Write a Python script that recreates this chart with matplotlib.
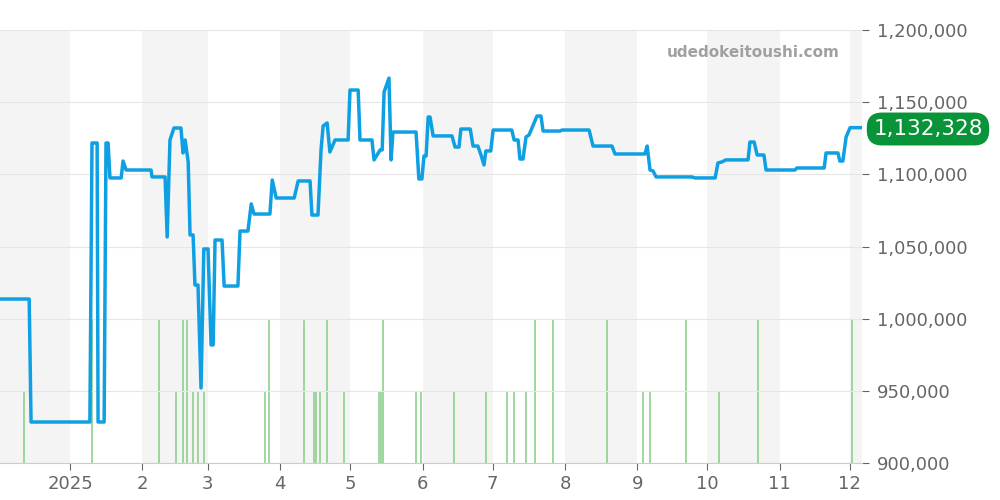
import matplotlib.pyplot as plt
import numpy as np
import pandas as pd

# price series: (day offset from 2025-01-01, price in yen)
price_days = [-30.0, -17.5, -16.7, 8.5, 9.4, 11.6, 12.0, 14.6, 15.4, 16.3, 17.1, 21.9, 22.7, 24.0, 34.7, 35.1,
              40.7, 41.6, 42.8, 44.5, 47.5, 48.4, 49.3, 50.6, 51.4, 52.7, 53.5, 54.8, 56.1, 57.3, 59.1, 60.4,
              61.3, 62.1, 65.1, 66.0, 71.9, 72.8, 76.2, 77.6, 78.8, 85.6, 86.6, 88.3, 96.0, 97.7, 102.8, 103.6,
              106.2, 107.5, 108.4, 110.1, 111.3, 113.5, 119.1, 119.9, 123.4, 124.2, 129.3, 130.2, 132.8, 133.7,
              134.5, 136.6, 137.5, 138.3, 148.2, 149.4, 150.7, 151.6, 152.5, 153.4, 154.2, 155.5, 163.6, 164.9,
              166.6, 167.4, 171.4, 172.6, 174.7, 176.0, 177.3, 178.1, 180.2, 181.2, 189.2, 190.2, 191.9, 192.7,
              194.0, 195.3, 196.6, 198.2, 200.0, 201.7, 202.6, 209.9, 210.7, 222.3, 224.0, 232.1, 233.4,
              246.2, 247.2, 248.4, 249.7, 251.0, 266.4, 267.7, 276.3, 277.5, 279.2, 280.9, 290.4, 291.2, 293.0,
              294.3, 297.2, 298.1, 310.5, 311.3, 323.0, 323.8, 328.9, 329.7, 331.0, 332.4, 334.1, 339.2]
prices = [1013600, 1013600, 928400, 928400, 1121700, 1121700, 928400, 928400, 1121700, 1121700, 1097500,
          1097500, 1109200, 1103000, 1103000, 1098200, 1098200, 1056600, 1123800, 1132100, 1132100, 1114800,
          1123800, 1108600, 1058000, 1058000, 1023300, 1023300, 952000, 1048300, 1048300, 981800, 981800,
          1054500, 1054500, 1022600, 1022600, 1060700, 1060700, 1079500, 1072500, 1072500, 1096100, 1083600,
          1083600, 1095400, 1095400, 1071800, 1071800, 1116900, 1133500, 1135600, 1115500, 1123800, 1123800,
          1158400, 1158400, 1123800, 1123800, 1110000, 1116900, 1116900, 1157000, 1166700, 1110000, 1129300,
          1129300, 1096800, 1096800, 1112700, 1112700, 1139700, 1139700, 1126600, 1126600, 1118900, 1118900,
          1131400, 1131400, 1119600, 1119600, 1113400, 1106500, 1116200, 1116200, 1130700, 1130700, 1123800,
          1123800, 1110600, 1110600, 1125900, 1127300, 1133500, 1140400, 1140400, 1130000, 1130000, 1130700,
          1130700, 1119600, 1119600, 1114100, 1114100, 1119600, 1103000, 1102300, 1098200, 1098200, 1097500,
          1097500, 1107900, 1108600, 1110000, 1110000, 1122400, 1122400, 1113400, 1113400, 1103000, 1103000,
          1104400, 1104400, 1114800, 1114800, 1109200, 1109200, 1125900, 1132328, 1132328]

# listing counts
vol_days = [-19.7, 9.4, 38.1, 45.4, 48.4, 50.1, 52.7, 54.8, 57.3, 83.5, 85.2, 100.2, 104.4, 105.4, 107.1,
            110.1, 117.4, 132.3, 133.1, 134.1, 148.2, 150.3, 164.5, 178.1, 187.1, 190.2, 195.3, 199.1,
            206.8, 230.0, 245.4, 248.4, 263.8, 278.0, 294.7, 334.9]
vol_counts = [1, 2, 2, 1, 2, 2, 1, 1, 1, 1, 2, 2, 1, 1, 1, 2, 1, 1, 1, 2, 1, 1, 1, 1, 1, 1, 1, 2, 2,
              2, 1, 1, 2, 1, 2, 2]

tick_labels = ["2025", "2", "3", "4", "5", "6", "7", "8", "9", "10", "11", "12"]

base = pd.Timestamp("2025-01-01")
to_date = lambda d: base + pd.to_timedelta(np.array(d) * 86400, unit="s")

fig = plt.figure(figsize=(10, 5), dpi=100)
ax = fig.add_axes([0, 0.074, 0.862, 0.866])
vax = ax.twinx()

# alternate month shading (drawn behind the volume bars)
for m in [-1, 1, 3, 5, 7, 9, 11]:
    s = pd.Timestamp(2024, 12, 1) if m < 0 else pd.Timestamp(2025, m + 1, 1)
    e = s + pd.offsets.MonthBegin(1)
    vax.axvspan(s, e, color="#f4f4f4", zorder=0, lw=0)

vax.vlines(to_date(vol_days), 0, vol_counts, color="#8fd18f", lw=1.2, zorder=2)
vax.set_ylim(0, 6)
vax.set_yticks([])

ax.set_zorder(vax.get_zorder() + 1)
ax.patch.set_visible(False)
ax.plot(to_date(price_days), prices, color="#0ea0e2", lw=2.5, zorder=3)

ax.set_xlim(to_date(-30), to_date(339.2))
ax.set_ylim(900000, 1200000)
yt = np.arange(900000, 1200001, 50000)
ax.yaxis.tick_right()
ax.set_yticks(yt)
ax.set_yticklabels([f"{v:,}" for v in yt])
ax.grid(axis="y", color="#e6e6e6", lw=0.8)
xt = [pd.Timestamp(2025, m, 1) for m in range(1, 13)]
ax.set_xticks(xt)
ax.set_xticklabels(tick_labels)
ax.tick_params(colors="#666666", labelsize=13, length=5)
ax.tick_params(axis="y", pad=6)
for s in ax.spines.values():
    s.set_visible(False)
for s in vax.spines.values():
    s.set_visible(False)
ax.spines["bottom"].set_visible(True)
ax.spines["bottom"].set_color("#cccccc")

fig.text(0.84, 0.895, "udedokeitoushi.com", ha="right", va="center", color="#a0a0a0",
         fontsize=11, weight="bold")
fig.text(0.928, 0.742, "1,132,328", ha="center", va="center", color="white", fontsize=15.5,
         bbox=dict(boxstyle="round,pad=0.3,rounding_size=0.7", fc="#0a9439", ec="none"))

fig.savefig("out.png", dpi=100)
